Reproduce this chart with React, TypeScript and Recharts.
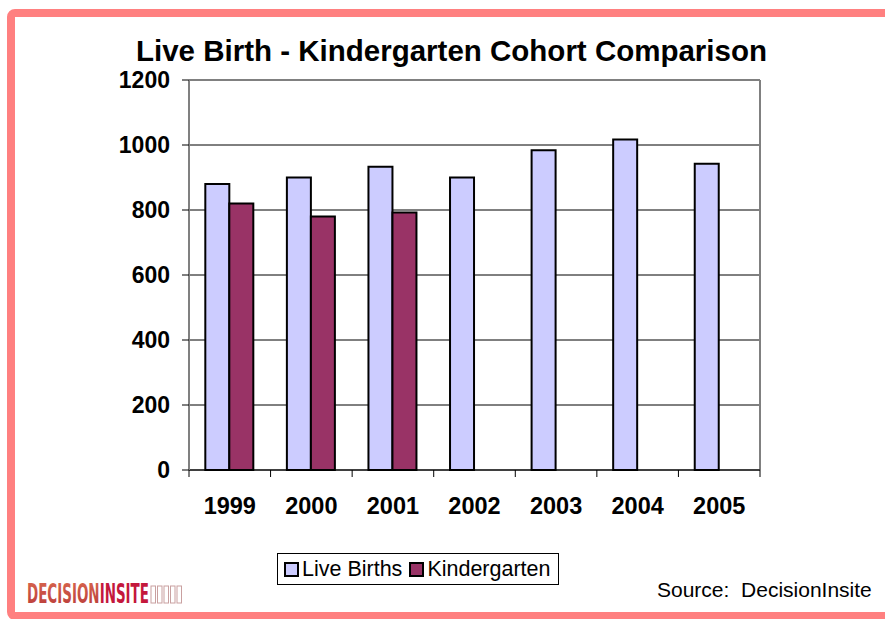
import React, { useLayoutEffect, useRef, useState } from "react";
import {
  Bar,
  BarChart,
  CartesianGrid,
  ReferenceLine,
  XAxis,
  YAxis,
} from "recharts";

const years = ["1999", "2000", "2001", "2002", "2003", "2004", "2005"];
const liveBirths = [880, 900, 933, 900, 984, 1017, 942];
const kindergarten: (number | null)[] = [820, 780, 792, null, null, null, null];
const yTicks = [0, 200, 400, 600, 800, 1000, 1200];

const series = [
  { key: "liveBirths", name: "Live Births", color: "#CCCCFF" },
  { key: "kindergarten", name: "Kindergarten", color: "#993366" },
];

const data = years.map((year, i) => ({
  year,
  liveBirths: liveBirths[i],
  kindergarten: kindergarten[i],
}));

const FONT = "Arial, 'Liberation Sans', Helvetica, sans-serif";
const LOGO_FONT = "'Liberation Sans Narrow', 'DejaVu Sans Condensed', Arial, sans-serif";

// Category ticks sit between bars in the original, so draw the tick mark at the band edge.
function YearTick(props: any) {
  const { x, y, payload, index } = props;
  const half = payload?.offset ?? 40.8;
  return (
    <g>
      <line x1={x - half} x2={x - half} y1={y - 7} y2={y} stroke="#000" />
      {index === years.length - 1 && (
        <line x1={x + half} x2={x + half} y1={y - 7} y2={y} stroke="#000" />
      )}
      <text
        x={x}
        y={y + 37}
        textAnchor="middle"
        fontFamily={FONT}
        fontWeight="bold"
        fontSize={23.5}
        fill="#000"
      >
        {payload.value}
      </text>
    </g>
  );
}

// Squeeze the wordmark to the width it has in the original.
function Logo() {
  const ref = useRef<SVGTextElement>(null);
  const [sx, setSx] = useState(0.8);
  useLayoutEffect(() => {
    const len = ref.current?.getComputedTextLength();
    if (len) setSx(122 / len);
  }, []);
  return (
    <svg style={{ position: "absolute", left: 24, top: 578 }} width={170} height={30}>
      <defs>
        <linearGradient id="logoGrad" x1="0" y1="0" x2="0" y2="1">
          <stop offset="0%" stopColor="#D9684F" />
          <stop offset="100%" stopColor="#B83A3A" />
        </linearGradient>
      </defs>
      <g transform={`translate(3,25) scale(${sx},1)`}>
        <text ref={ref} x={0} y={0} fontFamily={LOGO_FONT} fontWeight="bold" fontSize={27}>
          <tspan fill="url(#logoGrad)">DECISION</tspan>
          <tspan fill="#C4183C">INSITE</tspan>
        </text>
      </g>
      {[0, 1, 2, 3, 4].map((i) => (
        <rect
          key={i}
          x={127 + i * 6.5}
          y={8}
          width={4.5}
          height={17}
          fill="none"
          stroke="#C9A0A0"
          strokeWidth={1}
        />
      ))}
    </svg>
  );
}

export default function App() {
  return (
    <div
      style={{
        position: "absolute",
        left: 0,
        top: 0,
        width: 885,
        height: 619,
        overflow: "hidden",
        background: "#fff",
        fontFamily: FONT,
      }}
    >
      <div
        style={{
          position: "absolute",
          left: 7,
          top: 9,
          width: 920,
          height: 611,
          boxSizing: "border-box",
          border: "8px solid #FF8080",
          borderRadius: 8,
        }}
      />
      <div
        style={{
          position: "absolute",
          left: 0,
          width: 903,
          top: 33,
          textAlign: "center",
          fontWeight: "bold",
          fontSize: 29.5,
          lineHeight: "36px",
          color: "#000",
          whiteSpace: "nowrap",
        }}
      >
        Live Birth - Kindergarten Cohort Comparison
      </div>
      <div style={{ position: "absolute", left: 0, top: 0 }}>
        <BarChart
          width={885}
          height={619}
          data={data}
          margin={{ top: 80, right: 125, bottom: 99, left: 119 }}
          barCategoryGap="20%"
          barGap={0}
        >
          <CartesianGrid vertical={false} stroke="#000" strokeWidth={1} />
          <CartesianGrid
            horizontal={false}
            stroke="#808080"
            strokeWidth={2}
            verticalCoordinatesGenerator={({ offset }: any) => [
              offset.left + offset.width,
            ]}
          />
          <ReferenceLine y={1200} stroke="#808080" strokeWidth={2} />
          <XAxis
            dataKey="year"
            height={50}
            axisLine={{ stroke: "#000", strokeWidth: 1 }}
            tickLine={false}
            tickSize={7}
            tickMargin={0}
            tick={<YearTick />}
            interval={0}
          />
          <YAxis
            width={70}
            domain={[0, 1200]}
            ticks={yTicks}
            interval={0}
            axisLine={{ stroke: "#808080", strokeWidth: 2 }}
            tickLine={{ stroke: "#000" }}
            tickSize={7}
            tickMargin={12}
            tick={{ fontSize: 23, fontWeight: "bold", fill: "#000", fontFamily: FONT }}
          />
          {series.map((s) => (
            <Bar
              key={s.key}
              dataKey={s.key}
              name={s.name}
              fill={s.color}
              stroke="#000"
              strokeWidth={2}
              isAnimationActive={false}
            />
          ))}
        </BarChart>
      </div>
      <div
        style={{
          position: "absolute",
          left: 277,
          top: 553,
          width: 282,
          height: 32,
          boxSizing: "border-box",
          border: "1px solid #000",
          display: "flex",
          alignItems: "center",
          paddingLeft: 6,
          fontSize: 21.5,
          color: "#000",
          whiteSpace: "nowrap",
        }}
      >
        {series.map((s) => (
          <span
            key={s.key}
            style={{ display: "flex", alignItems: "center", marginRight: 7, whiteSpace: "nowrap" }}
          >
            <span
              style={{
                display: "inline-block",
                flex: "none",
                width: 11,
                height: 11,
                background: s.color,
                border: "2px solid #000",
                marginRight: 3,
              }}
            />
            {s.name}
          </span>
        ))}
      </div>
      <div
        style={{
          position: "absolute",
          left: 657,
          top: 578,
          fontSize: 21,
          lineHeight: "24px",
          color: "#000",
          whiteSpace: "pre",
        }}
      >
        {"Source:  DecisionInsite"}
      </div>
      <Logo />
    </div>
  );
}
